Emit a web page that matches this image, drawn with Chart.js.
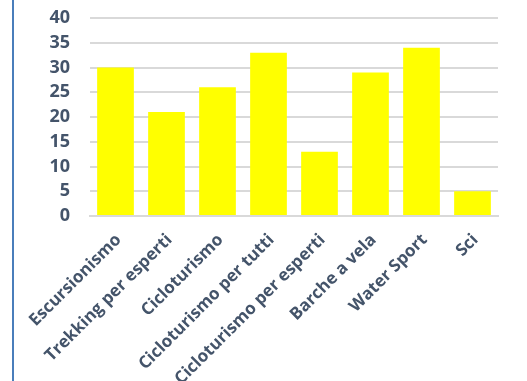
<!DOCTYPE html>
<html>
<head>
<meta charset="utf-8">
<script src="https://cdn.jsdelivr.net/npm/chart.js@4"></script>
<style>
  html, body { margin: 0; padding: 0; background: #fff; }
  #wrap { position: relative; width: 527px; height: 381px; }
  #edge { position: absolute; left: 12px; top: 0; width: 2px; height: 381px; background: #4a7ebb; }
</style>
</head>
<body>
<div id="wrap">
  <div id="edge"></div>
  <canvas id="chart" width="527" height="381"></canvas>
</div>
<script>
const categories = ['Escursionismo', 'Trekking per esperti', 'Cicloturismo', 'Cicloturismo per tutti',
                    'Cicloturismo per esperti', 'Barche a vela', 'Water Sport', 'Sci'];
const values = [30, 21, 26, 33, 13, 29, 34, 5];
const yMin = 0, yMax = 40, yStep = 5;

const textColor = '#44546a';
const fontFamily = '"Open Sans"';

function draw() {
    new Chart(document.getElementById('chart').getContext('2d'), {
        type: 'bar',
        data: {
            labels: categories,
            datasets: [{
                data: values,
                backgroundColor: '#ffff00',
                borderWidth: 0,
                categoryPercentage: 1,
                barPercentage: 0.72
            }]
        },
        options: {
            responsive: false,
            animation: false,
            layout: { padding: { top: 18, right: 29, left: 0, bottom: 0 } },
            plugins: { legend: { display: false }, tooltip: { enabled: false } },
            scales: {
                y: {
                    min: yMin, max: yMax,
                    ticks: { stepSize: yStep, autoSkip: false, color: textColor, padding: 2,
                             font: { family: fontFamily, size: 18, weight: 'bold' } },
                    // invisible ticks just push the labels away from the grid
                    grid: { color: '#d9d9d9', lineWidth: 2, drawTicks: true, tickLength: 18,
                            tickColor: 'rgba(0,0,0,0)' },
                    border: { display: false },
                    afterFit: s => { s.width = 90; }
                },
                x: {
                    ticks: { color: textColor, autoSkip: false, minRotation: 45, maxRotation: 45,
                             padding: 14, labelOffset: 3,
                             font: { family: fontFamily, size: 17, weight: 'bold' } },
                    grid: { display: false, drawTicks: false },
                    border: { display: true, color: '#d9d9d9', width: 2 },
                    afterFit: s => { s.height = 165; }
                }
            }
        }
    });
}

Promise.all([
    document.fonts.load('bold 18px "Open Sans"'),
    document.fonts.load('bold 17px "Open Sans"')
]).then(draw, draw);
</script>
</body>
</html>
